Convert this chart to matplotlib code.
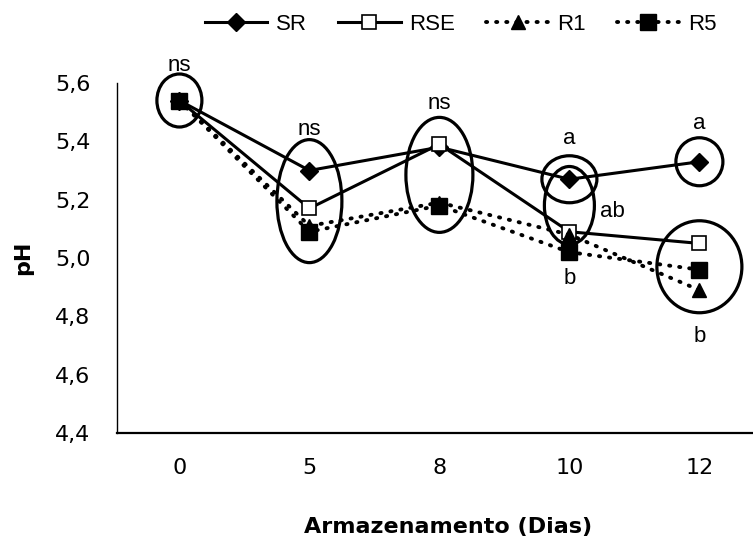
import numpy as np
import matplotlib
matplotlib.use("Agg")
import matplotlib.pyplot as plt
from matplotlib.patches import Ellipse

plt.rcParams['font.family'] = ['Liberation Sans', 'DejaVu Sans']

# data
days = ["0", "5", "8", "10", "12"]
sr = [5.54, 5.30, 5.38, 5.27, 5.33]
rse = [5.54, 5.17, 5.39, 5.09, 5.05]
r1 = [5.54, 5.11, 5.19, 5.08, 4.89]
r5 = [5.54, 5.09, 5.18, 5.02, 4.96]

# significance groups: (day index, series in group, ellipse w, h in pixels)
groups = [
    (0, ["sr", "rse", "r1", "r5"], 45, 53),
    (1, ["sr", "rse", "r1", "r5"], 65, 123),
    (2, ["sr", "rse", "r1", "r5"], 67, 115),
    (3, ["sr"], 55, 47),
    (3, ["sr", "rse"], 50, 78),
    (4, ["sr"], 47, 48),
    (4, ["rse", "r1", "r5"], 85, 92),
]
# letters: (x, y, text)
letters = [(0, 5.66, "ns"), (1, 5.44, "ns"), (2, 5.53, "ns"),
           (3, 5.41, "a"), (4, 5.46, "a"), (3.33, 5.16, "ab"),
           (3, 4.93, "b"), (4, 4.73, "b")]

series = {"sr": sr, "rse": rse, "r1": r1, "r5": r5}

fig = plt.figure(figsize=(7.53, 5.37), dpi=100)
ax = fig.add_axes([117/753, 104/537, 1 - 117/753, 350/537])

x = np.arange(len(days))
dot = (0, (0.3, 2.3))
ax.plot(x, sr, color='black', lw=2.2, marker='D', ms=9, mfc='black', mec='black', label='SR')
ax.plot(x, rse, color='black', lw=2.2, marker='s', ms=10, mfc='white', mec='black', mew=1.2, label='RSE')
ax.plot(x, r1, color='black', lw=2.8, ls=dot, dash_capstyle='round', marker='^', ms=10,
        mfc='black', mec='black', label='R1')
ax.plot(x, r5, color='black', lw=2.8, ls=dot, dash_capstyle='round', marker='s', ms=11,
        mfc='black', mec='black', label='R5')

ax.set_xlim(-0.48, -0.48 + 636/130)
ax.set_ylim(4.4, 5.6)
px_x = 130.0
px_y = 350/1.2

for i, keys, w, h in groups:
    vals = [series[k][i] for k in keys]
    cy = (max(vals) + min(vals)) / 2
    ax.add_patch(Ellipse((i, cy), w/px_x, h/px_y, fill=False, ec='black', lw=2.3, clip_on=False))

for lx, ly, t in letters:
    ax.text(lx, ly, t, ha='center', va='center', fontsize=16, clip_on=False)

ax.set_xticks(x)
ax.set_xticklabels(days, family='DejaVu Sans')
yt = np.arange(4.4, 5.61, 0.2)
ax.set_yticks(yt)
ax.set_yticklabels([f"{v:.1f}".replace('.', ',') for v in yt], family='DejaVu Sans')
ax.tick_params(length=0, labelsize=16)
ax.tick_params(axis='x', pad=18)
ax.tick_params(axis='y', pad=19)
for s in ['top', 'right']:
    ax.spines[s].set_visible(False)
ax.spines['left'].set_linewidth(1.0)
ax.spines['bottom'].set_linewidth(1.6)

ax.set_xlabel("Armazenamento (Dias)", fontsize=16, fontweight='bold', family='DejaVu Sans', labelpad=28)
ax.xaxis.label.set_x(0.52)
ax.set_ylabel("pH", fontsize=16, fontweight='bold', family='DejaVu Sans', labelpad=16)

fig.legend(loc='center', bbox_to_anchor=(461/753, 1 - 24/537), ncol=4, frameon=False,
           fontsize=16, handlelength=2.8, handletextpad=0.4, columnspacing=1.4)

fig.savefig("out.png", dpi=100)
